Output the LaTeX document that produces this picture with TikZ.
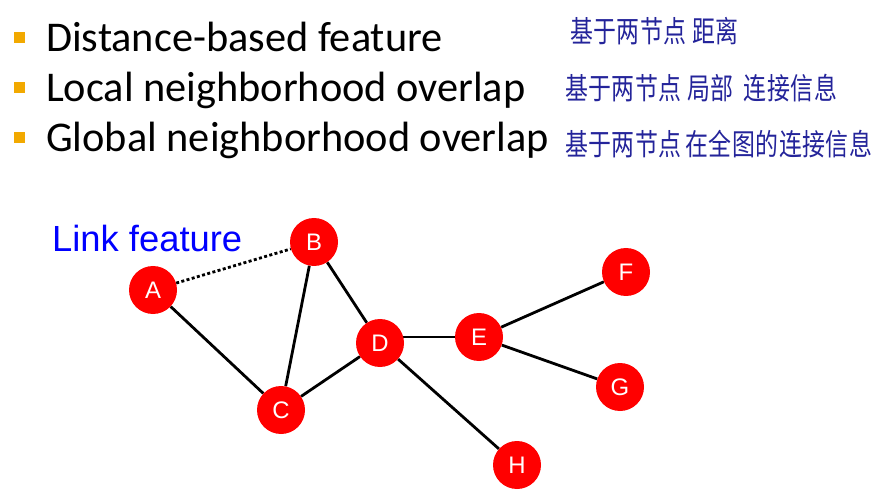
\documentclass[tikz,border=0pt]{standalone}
\usepackage{fontspec}
\usetikzlibrary{backgrounds}
\setmainfont{Carlito}
\newfontfamily\arialf{Liberation Sans}
\newfontfamily\cjkf{Noto Sans CJK SC}[LetterSpace=2]
\definecolor{bulletc}{HTML}{F2A900}
\definecolor{handc}{HTML}{24249A}
\newcommand{\tallcjk}[1]{\scalebox{1}[1.3]{#1}}
\begin{document}
\begin{tikzpicture}[x=1bp,y=-1bp,
  vert/.style={circle,fill=red,draw=none,minimum size=48bp,inner sep=0pt,text=white,font=\arialf\fontsize{24}{26}\selectfont},
  edge/.style={line width=2.8bp,black},
  bul/.style={fill=bulletc,draw=none,minimum size=11bp,inner sep=0pt},
  item/.style={anchor=base west,inner sep=0pt,font=\fontsize{42.5}{46}\selectfont},
  hand/.style={anchor=base west,inner sep=0pt,text=handc,font=\cjkf\fontsize{23}{25}\selectfont}]
\useasboundingbox (0,0) rectangle (887,496);
\node[bul] (b1) at (19,38) {};
\node[bul] (b2) at (19,88) {};
\node[bul] (b3) at (19,138) {};
\node[item] (t1) at (46,52) {Distance-based feature};
\node[item] (t2) at (46,102) {Local neighborhood overlap};
\node[item] (t3) at (46,152) {Global neighborhood overlap};
\node[hand] (h1) at (570,43) {\tallcjk{基于两节点\hspace{6bp}距离}};
\node[hand] (h2) at (565,100) {\tallcjk{基于两节点\hspace{6bp}局部\hspace{10bp}连接信息}};
\node[hand] (h3) at (565,156) {\tallcjk{基于两节点\hspace{4bp}在全图的连接信息}};
\node[anchor=base west,inner sep=0pt,text=blue,font=\arialf\fontsize{36.5}{40}\selectfont] (lf) at (52,252) {Link feature};
\node[vert] (A) at (153,290) {A};
\node[vert] (B) at (314,242) {B};
\node[vert] (C) at (281,410) {C};
\node[vert] (D) at (380,343) {D};
\node[vert] (E) at (479,337) {E};
\node[vert] (F) at (626,272) {F};
\node[vert] (G) at (620,387) {G};
\node[vert] (H) at (517,465) {H};
\begin{scope}[on background layer]
\draw[line width=2.8bp,line cap=butt,dash pattern=on 3bp off 2.4bp] (A) -- (B);
\draw[edge] (A) -- (C);
\draw[edge] (B) -- (C);
\draw[edge] (B) -- (D);
\draw[edge] (C) -- (D);
\draw[edge] (E.center) -- (E.center -| D.center);
\draw[edge] (D) -- (H);
\draw[edge] (E) -- (F);
\draw[edge] (E) -- (G);
\end{scope}
\end{tikzpicture}
\end{document}
